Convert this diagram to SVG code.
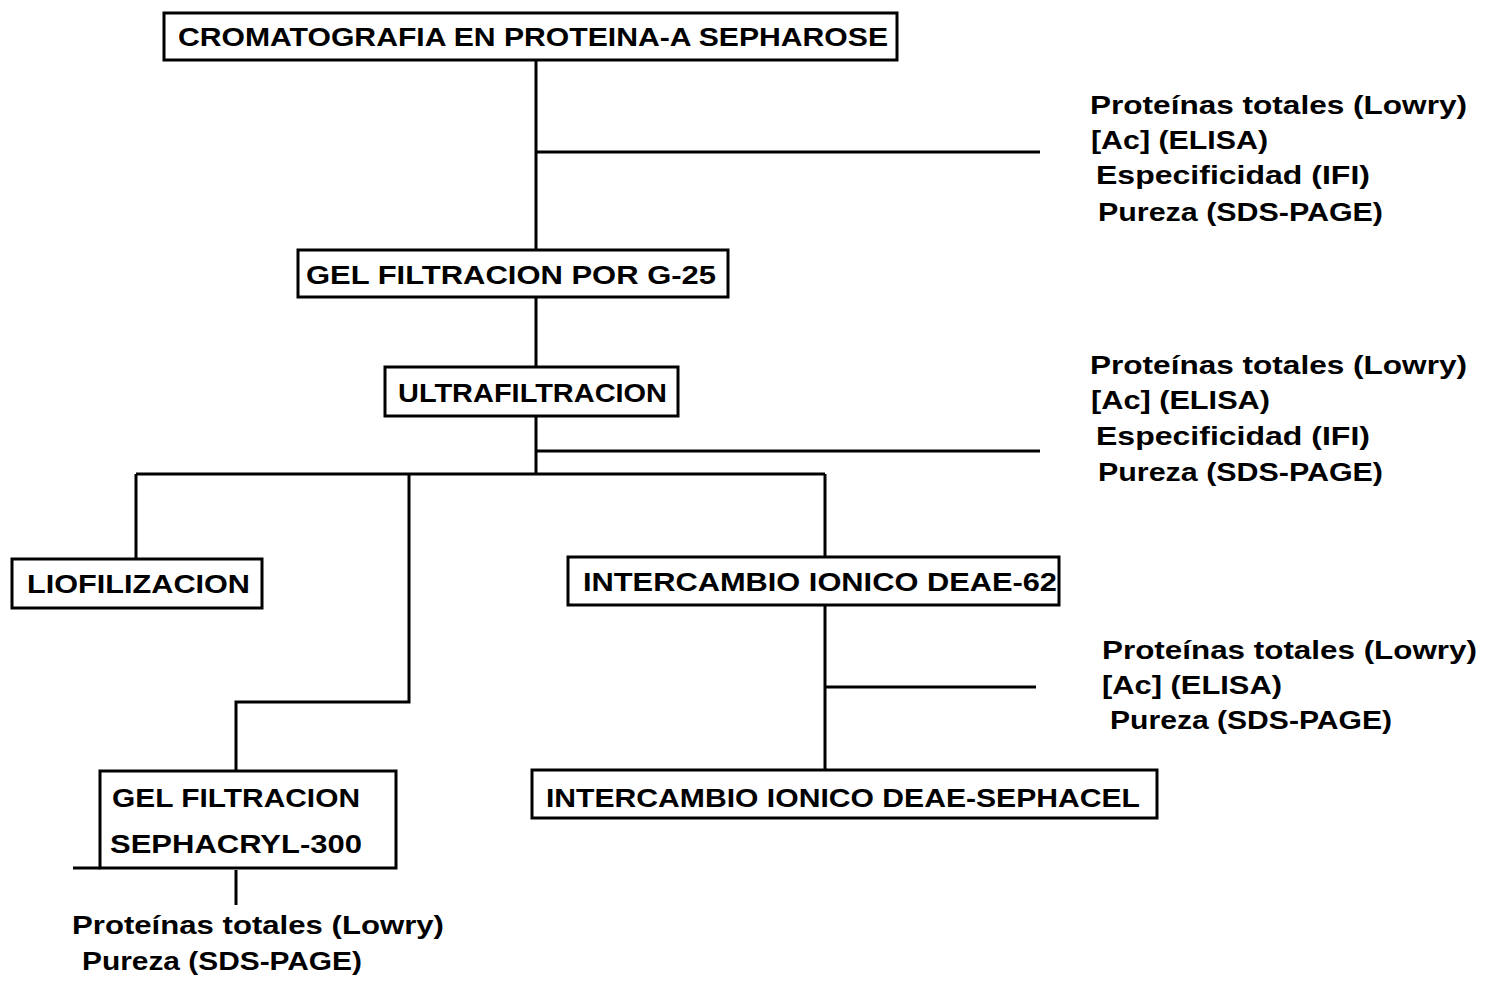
<svg xmlns="http://www.w3.org/2000/svg" width="1489" height="985" viewBox="0 0 1489 985">
<style>
.box{fill:#fff;stroke:#000;stroke-width:3}
.ln{stroke:#000;stroke-width:3;fill:none}
.t{font-family:"Liberation Sans",Arial,sans-serif;font-weight:bold;font-size:26px;fill:#000}
</style>
<rect width="1489" height="985" fill="#fff"/>
<g id="connectors">
<path class="ln" d="M536 60V367M536 152H1040M536 416V475M536 451H1040M136 474H825M136 474V559M409 474V702H236V771M825 474V557M825 605V770M825 687H1036M236 870V905M73 868H100"/>
</g>
<g id="n1"><rect class="box" x="164" y="13" width="733" height="47"/><text class="t" x="178" y="46" textLength="710" lengthAdjust="spacingAndGlyphs">CROMATOGRAFIA EN PROTEINA-A SEPHAROSE</text></g>
<g id="n2"><rect class="box" x="298" y="250" width="430" height="47"/><text class="t" x="306" y="284" textLength="410" lengthAdjust="spacingAndGlyphs">GEL FILTRACION POR G-25</text></g>
<g id="n3"><rect class="box" x="385" y="367" width="293" height="49"/><text class="t" x="398" y="402" textLength="269" lengthAdjust="spacingAndGlyphs">ULTRAFILTRACION</text></g>
<g id="n4"><rect class="box" x="12" y="559" width="250" height="49"/><text class="t" x="27" y="593" textLength="223" lengthAdjust="spacingAndGlyphs">LIOFILIZACION</text></g>
<g id="n5"><rect class="box" x="568" y="557" width="491" height="48"/><text class="t" x="583" y="591" textLength="474" lengthAdjust="spacingAndGlyphs">INTERCAMBIO IONICO DEAE-62</text></g>
<g id="n6"><rect class="box" x="532" y="770" width="625" height="48"/><text class="t" x="546" y="807" textLength="594" lengthAdjust="spacingAndGlyphs">INTERCAMBIO IONICO DEAE-SEPHACEL</text></g>
<g id="n7"><rect class="box" x="100" y="771" width="296" height="97"/><text class="t" x="112" y="807" textLength="248" lengthAdjust="spacingAndGlyphs">GEL FILTRACION</text><text class="t" x="110" y="853" textLength="252" lengthAdjust="spacingAndGlyphs">SEPHACRYL-300</text></g>
<g id="a1">
<text class="t" x="1090" y="114" textLength="377" lengthAdjust="spacingAndGlyphs">Proteínas totales (Lowry)</text>
<text class="t" x="1091" y="149" textLength="177" lengthAdjust="spacingAndGlyphs">[Ac] (ELISA)</text>
<text class="t" x="1096" y="184" textLength="274" lengthAdjust="spacingAndGlyphs">Especificidad (IFI)</text>
<text class="t" x="1098" y="221" textLength="285" lengthAdjust="spacingAndGlyphs">Pureza (SDS-PAGE)</text>
</g>
<g id="a2">
<text class="t" x="1090" y="374" textLength="377" lengthAdjust="spacingAndGlyphs">Proteínas totales (Lowry)</text>
<text class="t" x="1091" y="409" textLength="179" lengthAdjust="spacingAndGlyphs">[Ac] (ELISA)</text>
<text class="t" x="1096" y="445" textLength="274" lengthAdjust="spacingAndGlyphs">Especificidad (IFI)</text>
<text class="t" x="1098" y="481" textLength="285" lengthAdjust="spacingAndGlyphs">Pureza (SDS-PAGE)</text>
</g>
<g id="a3">
<text class="t" x="1102" y="659" textLength="375" lengthAdjust="spacingAndGlyphs">Proteínas totales (Lowry)</text>
<text class="t" x="1102" y="694" textLength="180" lengthAdjust="spacingAndGlyphs">[Ac] (ELISA)</text>
<text class="t" x="1110" y="729" textLength="282" lengthAdjust="spacingAndGlyphs">Pureza (SDS-PAGE)</text>
</g>
<g id="a4">
<text class="t" x="72" y="934" textLength="372" lengthAdjust="spacingAndGlyphs">Proteínas totales (Lowry)</text>
<text class="t" x="82" y="970" textLength="280" lengthAdjust="spacingAndGlyphs">Pureza (SDS-PAGE)</text>
</g>
</svg>
